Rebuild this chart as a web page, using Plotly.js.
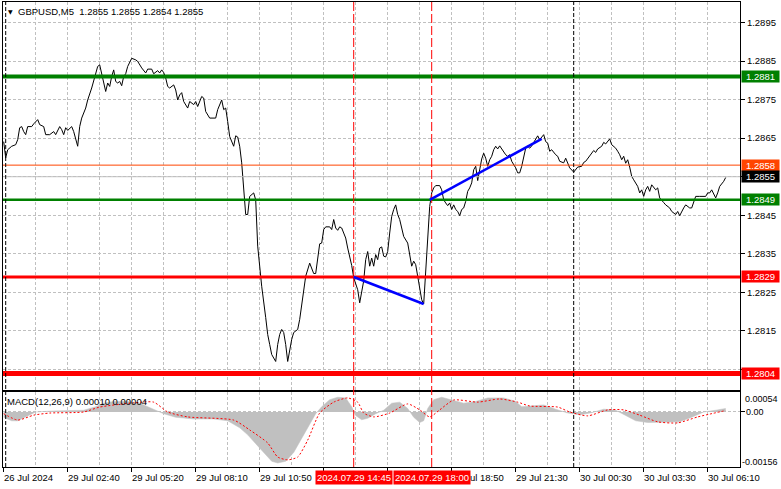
<!DOCTYPE html>
<html><head><meta charset="utf-8">
<script src="https://cdn.plot.ly/plotly-3.0.1.min.js"></script>
<style>html,body{margin:0;padding:0;background:#fff;}#chart{width:781px;height:489px;}</style>
</head><body><div id="chart"></div>
<script>
// ---------- data ----------
const symbolTitle = "GBPUSD,M5  1.2855 1.2855 1.2854 1.2855";
const macdTitle = "MACD(12,26,9) 0.00010 0.00004";

// close prices (bar index -> close), M5 bars
const priceBars = [0,1,2,4,6,7,8,9,10,11,12,14,15,17,18,20,21,23,25,26,28,29,30,31,32,34,35,36,37,38,39,41,42,44,45,47,48,49,50,51,52,53,54,55,56,57,58,59,60,61,62,64,66,67,69,71,72,74,75,77,78,79,80,81,82,83,85,86,87,88,89,90,92,93,95,96,97,99,100,101,103,106,107,109,110,111,112,113,115,116,117,118,119,120,121,122,123,125,126,127,128,129,131,132,133,134,136,137,138,139,140,141,142,143,144,145,147,148,150,151,153,154,155,156,157,158,159,160,161,163,164,165,166,167,168,169,170,171,172,174,175,176,177,178,179,180,181,182,183,184,185,186,187,188,189,190,191,192,193,194,195,196,197,198,199,200,202,203,204,205,206,207,208,209,210,211,212,213,214,215,216,218,219,220,221,222,223,224,225,226,227,228,229,230,231,232,233,234,235,236,237,238,239,240,241,242,243,244,245,246,247,248,251,252,253,254,256,257,258,259,260,261,262,263,264,266,267,268,269,270,271,272,273,274,276,277,278,280,281,282,283,285,286,287,289,290,291,293,294,295,296,297,299,300,301,302,303,304,306,307,308,309,310,311,312,313,314,315,317,318,319,320,321,322,323,324,326,327,328,330,331,333,334,336,337,338,339,340,341,343,344,345,346,348,351,352,353,354,355,356,357,358,360,361];
const priceCloses = [1.28641,1.28599,1.28620,1.28629,1.28633,1.28646,1.28677,1.28680,1.28667,1.28659,1.28680,1.28680,1.28687,1.28698,1.28685,1.28680,1.28659,1.28659,1.28667,1.28659,1.28680,1.28672,1.28659,1.28677,1.28670,1.28680,1.28667,1.28646,1.28629,1.28680,1.28702,1.28728,1.28749,1.28780,1.28797,1.28836,1.28840,1.28814,1.28793,1.28771,1.28793,1.28784,1.28810,1.28827,1.28797,1.28793,1.28797,1.28786,1.28810,1.28817,1.28836,1.28857,1.28853,1.28849,1.28832,1.28819,1.28829,1.28829,1.28817,1.28825,1.28819,1.28827,1.28820,1.28806,1.28784,1.28780,1.28788,1.28775,1.28749,1.28762,1.28768,1.28745,1.28728,1.28745,1.28737,1.28745,1.28732,1.28758,1.28754,1.28719,1.28702,1.28702,1.28724,1.28749,1.28724,1.28728,1.28693,1.28654,1.28629,1.28656,1.28653,1.28629,1.28586,1.28516,1.28452,1.28452,1.28499,1.28508,1.28490,1.28370,1.28318,1.28266,1.28185,1.28141,1.28115,1.28089,1.28071,1.28115,1.28141,1.28154,1.28146,1.28115,1.28071,1.28102,1.28128,1.28146,1.28154,1.28180,1.28249,1.28292,1.28326,1.28314,1.28299,1.28299,1.28344,1.28376,1.28378,1.28413,1.28420,1.28420,1.28413,1.28439,1.28417,1.28411,1.28420,1.28417,1.28404,1.28391,1.28365,1.28320,1.28288,1.28275,1.28257,1.28223,1.28249,1.28280,1.28335,1.28356,1.28318,1.28339,1.28318,1.28348,1.28335,1.28365,1.28368,1.28344,1.28342,1.28356,1.28404,1.28447,1.28465,1.28477,1.28452,1.28439,1.28417,1.28395,1.28378,1.28344,1.28318,1.28331,1.28322,1.28292,1.28266,1.28231,1.28220,1.28300,1.28400,1.28473,1.28508,1.28521,1.28527,1.28527,1.28516,1.28490,1.28482,1.28475,1.28482,1.28465,1.28477,1.28465,1.28460,1.28449,1.28465,1.28469,1.28486,1.28512,1.28521,1.28534,1.28568,1.28577,1.28540,1.28568,1.28596,1.28611,1.28598,1.28577,1.28594,1.28603,1.28620,1.28629,1.28622,1.28630,1.28607,1.28603,1.28607,1.28590,1.28573,1.28560,1.28560,1.28577,1.28603,1.28624,1.28629,1.28624,1.28630,1.28648,1.28656,1.28646,1.28654,1.28659,1.28641,1.28637,1.28616,1.28620,1.28607,1.28603,1.28590,1.28586,1.28598,1.28584,1.28573,1.28562,1.28570,1.28575,1.28577,1.28587,1.28590,1.28603,1.28611,1.28618,1.28613,1.28622,1.28629,1.28639,1.28635,1.28641,1.28648,1.28633,1.28624,1.28616,1.28607,1.28594,1.28603,1.28585,1.28594,1.28575,1.28551,1.28542,1.28525,1.28508,1.28516,1.28499,1.28516,1.28525,1.28512,1.28529,1.28516,1.28521,1.28495,1.28483,1.28477,1.28469,1.28460,1.28452,1.28460,1.28449,1.28460,1.28469,1.28477,1.28469,1.28469,1.28482,1.28499,1.28499,1.28499,1.28508,1.28508,1.28516,1.28503,1.28495,1.28508,1.28525,1.28538,1.28548];

// horizontal levels
const levelValues = [1.2881, 1.2858, 1.2855, 1.2849, 1.2829, 1.2804];
const levelColors = ['#008000', '#FF4500', '#C0C0C0', '#008000', '#FF0000', '#FF0000'];
const levelLabelColors = ['#008000', '#FF4500', '#000000', '#008000', '#FF0000', '#FF0000'];
const levelWidths = [4, 1, 1, 2.5, 3, 5];

// price axis ticks (labels at 1.2805 / 1.2855 are covered by level boxes)
const priceTicks = [1.2805, 1.2815, 1.2825, 1.2835, 1.2845, 1.2855, 1.2865, 1.2875, 1.2885, 1.2895];
const priceTickLabels = ['', '1.2815', '1.2825', '1.2835', '1.2845', '', '1.2865', '1.2875', '1.2885', '1.2895'];

// time axis
const timeTickBars = [0, 32, 64, 96, 128, 224, 256, 288, 320, 352];
const timeTickLabels = ['26 Jul 2024', '29 Jul 02:40', '29 Jul 05:20', '29 Jul 08:10', '29 Jul 10:50', '29 Jul 18:50', '29 Jul 21:30', '30 Jul 00:30', '30 Jul 03:30', '30 Jul 06:10'];
const daySeparatorBars = [1, 285];
const signalTimeBars = [175, 214];
const signalTimeLabels = ['2024.07.29 14:45', '2024.07.29 18:00'];

// trend lines
const trendABars = [175, 210];
const trendAPrices = [1.2829, 1.2822];
const trendBBars = [213, 269];
const trendBPrices = [1.2849, 1.28648];

// MACD
const macdHistBars = [0,4,7,12,16,25,40,46,50,55,62,68,72,76,80,86,95,105,112,118,122,126,130,134,137,141,145,149,153,156,159,163,167,171,174,176,179,182,186,190,194,198,202,205,208,210,212,215,219,224,230,236,242,250,256,259,264,270,276,282,288,294,300,306,311,316,322,330,338,344,350,356,361];
const macdHistValues = [-0.00015,-0.00025,-0.00025,-0.00012,0,0.00003,0.00005,0.00015,0.00025,0.00030,0.00030,0.00025,0.00015,0.00005,-0.00005,-0.00015,-0.00020,-0.00020,-0.00025,-0.00045,-0.00065,-0.00090,-0.00115,-0.00140,-0.00145,-0.00140,-0.00115,-0.00075,-0.00035,-0.00005,0.00015,0.00035,0.00042,0.00040,0.00015,-0.00010,-0.00022,-0.00018,-0.00005,0.00005,0.00025,0.00028,0.00010,-0.00015,-0.00030,-0.00025,0.00010,0.00035,0.00042,0.00035,0.00025,0.00030,0.00040,0.00040,0.00030,0.00015,0.00018,0.00020,0.00008,-0.00003,-0.00008,-0.00002,0.00008,0.00005,-0.00010,-0.00025,-0.00030,-0.00030,-0.00028,-0.00015,0,0.00005,0.00010];
const macdSignalBars = [0,7,15,23,40,48,65,75,82,92,115,123,132,137,142,147,152,158,165,172,177,180,185,193,202,208,213,218,225,237,248,257,263,277,283,292,302,310,318,327,337,347,353,361];
const macdSignalValues = [-0.00005,-0.00023,-0.00009,-0.00003,0,0.00014,0.00026,0.00028,0,-0.00014,-0.00023,-0.00051,-0.00088,-0.00128,-0.00136,-0.00128,-0.00080,-0.00003,0.00028,0.00040,0.00028,-0.00003,-0.00014,-0.00003,0.00023,0.00006,-0.00014,0.00006,0.00034,0.00028,0.00037,0.00028,0.00017,0.00014,0,-0.00011,0.00006,0.00006,-0.00009,-0.00028,-0.00031,-0.00014,-0.00006,0.00004];
const macdTicks = [0.00054, 0, -0.00156];
const macdTickLabels = ['0.00054', '0.00', '-0.00156'];

// ---------- chart ----------
const FONT = 'Liberation Sans, Arial, sans-serif';
const X_RANGE = [-0.35, 368.15];
const GRID = '#C0C0C0';
const GDASH = '3px,2px';

const traces = [
  {x: macdHistBars, y: macdHistValues, xaxis: 'x2', yaxis: 'y2', type: 'scatter', mode: 'lines',
   fill: 'tozeroy', fillcolor: '#C0C0C0', line: {color: '#C0C0C0', width: 0.5}, hoverinfo: 'skip'},
  {x: macdSignalBars, y: macdSignalValues, xaxis: 'x2', yaxis: 'y2', type: 'scatter', mode: 'lines',
   line: {color: '#FF0000', width: 1, dash: '2px,2px', shape: 'spline', smoothing: 0.6}, hoverinfo: 'skip'},
  {x: priceBars, y: priceCloses, xaxis: 'x', yaxis: 'y', type: 'scatter', mode: 'lines',
   line: {color: '#000000', width: 1}, hoverinfo: 'skip'}
];

const shapes = [];
levelValues.forEach((v, i) => {
  shapes.push({type: 'line', xref: 'paper', x0: 0, x1: 1, yref: 'y', y0: v, y1: v,
    line: {color: levelColors[i], width: levelWidths[i]}, layer: 'above'});
});
daySeparatorBars.forEach(b => {
  shapes.push({type: 'line', xref: 'x', x0: b, x1: b, yref: 'paper', y0: 0, y1: 1,
    line: {color: '#000000', width: 1, dash: '4px,2px'}, layer: 'above'});
});
signalTimeBars.forEach(b => {
  shapes.push({type: 'line', xref: 'x', x0: b, x1: b, yref: 'paper', y0: 0, y1: 1,
    line: {color: '#FF0000', width: 1, dash: '9px,3px'}, layer: 'above'});
});
[[trendABars, trendAPrices], [trendBBars, trendBPrices]].forEach(([bx, py]) => {
  shapes.push({type: 'line', xref: 'x', yref: 'y', x0: bx[0], x1: bx[1], y0: py[0], y1: py[1],
    line: {color: '#0000FF', width: 2.5}, layer: 'above'});
});

const annotations = [];
annotations.push({xref: 'paper', x: 0, xanchor: 'left', xshift: 3, yref: 'paper', y: 1, yanchor: 'top', yshift: -4,
  text: '▼', showarrow: false, font: {family: 'DejaVu Sans', size: 6, color: '#000'}});
annotations.push({xref: 'paper', x: 0, xanchor: 'left', xshift: 13, yref: 'paper', y: 1, yanchor: 'top', yshift: -2,
  text: symbolTitle.replace(/  /g, '&nbsp; '), showarrow: false, font: {family: FONT, size: 9.5, color: '#000'}});
annotations.push({xref: 'paper', x: 0, xanchor: 'left', xshift: 2, yref: 'y2 domain', y: 1, yanchor: 'top', yshift: -2,
  text: macdTitle, showarrow: false, font: {family: FONT, size: 9.5, color: '#000'}});
levelValues.forEach((v, i) => {
  annotations.push({xref: 'paper', x: 1, xanchor: 'left', xshift: 1, yref: 'y', y: v, yanchor: 'middle',
    text: v.toFixed(4), showarrow: false, bgcolor: levelLabelColors[i], borderpad: 1, width: 35, height: 9,
    align: 'center', font: {family: FONT, size: 9.5, color: '#FFFFFF'}});
});
const macdShiftY = [-6, 0, 5];
const macdShiftX = [4, 5, 1];
macdTicks.forEach((v, i) => {
  annotations.push({xref: 'paper', x: 1, xanchor: 'left', xshift: macdShiftX[i], yref: 'y2', y: v, yanchor: 'middle', yshift: macdShiftY[i],
    text: macdTickLabels[i], showarrow: false, borderpad: 0, font: {family: FONT, size: 9, color: '#000'}});
});
timeTickBars.forEach((b, i) => {
  annotations.push({xref: 'x2', x: b, xanchor: 'left', xshift: -2, yref: 'paper', y: 0, yanchor: 'top', yshift: -3,
    text: timeTickLabels[i], showarrow: false, font: {family: FONT, size: 9.5, color: '#000'}});
});
signalTimeBars.forEach((b, i) => {
  annotations.push({xref: 'x2', x: b, xanchor: 'center', yref: 'paper', y: 0, yanchor: 'top', yshift: -3,
    text: signalTimeLabels[i], showarrow: false, bgcolor: '#FF0000', borderpad: 1,
    font: {family: FONT, size: 9.5, color: '#FFFFFF'}});
});

const axBase = {range: X_RANGE, showline: true, linecolor: '#000', linewidth: 1, mirror: true, zeroline: false,
  showticklabels: false, showgrid: true, gridcolor: GRID, griddash: GDASH, gridwidth: 1};

const layout = {
  width: 781, height: 489,
  margin: {l: 3, r: 41, t: 2, b: 22, pad: 0},
  paper_bgcolor: '#FFFFFF', plot_bgcolor: '#FFFFFF', showlegend: false,
  font: {family: FONT, size: 9.5, color: '#000'},
  xaxis: Object.assign({}, axBase, {anchor: 'y', domain: [0, 1], tickmode: 'linear', tick0: 0, dtick: 16, ticks: ''}),
  xaxis2: Object.assign({}, axBase, {anchor: 'y2', domain: [0, 1], tickmode: 'linear', tick0: 0, dtick: 32,
    ticks: 'outside', ticklen: 4, tickcolor: '#000',
    minor: {tick0: 0, dtick: 16, showgrid: true, gridcolor: GRID, griddash: GDASH, ticks: ''}}),
  yaxis: {anchor: 'x', domain: [0.1656, 1], range: [1.27997, 1.29003], side: 'right',
    tickmode: 'array', tickvals: priceTicks, ticktext: priceTickLabels,
    ticks: 'outside', ticklen: 4, tickcolor: '#000', showticklabels: true,
    tickfont: {family: FONT, size: 9.5, color: '#000'},
    showgrid: true, gridcolor: GRID, griddash: GDASH, zeroline: false,
    showline: true, linecolor: '#000', linewidth: 1, mirror: true},
  yaxis2: {anchor: 'x2', domain: [0, 0.1613], range: [-0.001563, 0.000568], side: 'right',
    tickmode: 'array', tickvals: [0], ticks: 'outside', ticklen: 4, tickcolor: '#000', showticklabels: false,
    showgrid: true, gridcolor: GRID, griddash: GDASH, zeroline: false,
    showline: true, linecolor: '#000', linewidth: 1, mirror: true},
  shapes: shapes,
  annotations: annotations
};

Plotly.newPlot('chart', traces, layout, {staticPlot: true, displayModeBar: false});
</script>
</body></html>
